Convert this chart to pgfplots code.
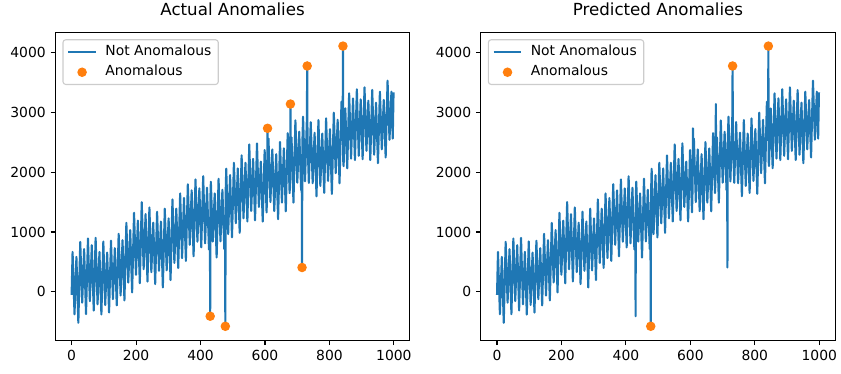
\documentclass[border=0pt]{standalone}
\usepackage{pgfplots}
\usepackage{pgfplotstable}
\pgfplotsset{compat=1.18}
\usepackage{fontspec}
\setmainfont{DejaVu Sans}
\definecolor{tabBlue}{HTML}{1F77B4}
\definecolor{tabOrange}{HTML}{FF7F0E}
\definecolor{legframe}{HTML}{CCCCCC}

\pgfplotstableread{
x y
0 -50
3.0 668
9.0 -372
14.9 585
20.9 -515
26.8 836
32.8 -179
38.8 714
44.7 -371
50.7 892
56.6 -153
62.6 780
68.6 -310
74.5 903
80.5 -207
86.4 668
92.4 -377
98.4 842
104.3 -218
110.3 657
116.2 -343
122.2 855
128.2 -120
134.1 730
140.1 -225
146.0 970
152.0 -60
158.0 864
163.9 -141
169.9 1153
175.8 158
181.8 1032
187.8 -8
193.7 1321
199.7 286
205.6 1190
211.6 145
217.6 1499
223.5 379
229.5 1299
235.4 174
241.4 1410
247.4 330
253.3 1156
259.3 131
265.2 1338
271.2 353
277.2 1175
283.1 75
289.1 1390
295.0 360
301.0 1227
307.0 197
312.9 1544
318.9 484
324.8 1390
330.8 400
336.8 1644
342.7 564
348.7 1568
354.6 518
360.6 1797
366.6 787
372.5 1695
378.5 595
384.4 1878
390.4 838
396.4 1728
402.3 743
408.3 1931
414.2 811
420.2 1739
426.2 709
429 1246
430 -405
431 1629
432.1 1840
438.1 840
444.0 1644
450.0 574
456.0 1889
461.9 844
467.9 1705
473.8 715
476 1207
477 -573
478 1654
479.8 2056
485.8 966
491.7 1950
497.7 910
503.6 2156
509.6 1146
515.6 2061
521.5 986
527.5 2279
533.4 1229
539.4 2156
545.4 1176
551.3 2462
557.3 1352
563.2 2220
569.2 1195
575.2 2479
581.1 1419
587.1 2175
593.0 1175
599.0 2368
605.0 1328
607 1746
608 2731
609 2163
610.9 2560
616.9 1500
622.8 2379
628.8 1349
634.8 2299
640.7 1214
646.7 2502
652.6 1492
658.6 2396
664.6 1346
670.5 2650
676.5 1650
678 1886
679 3136
680 2202
682.4 2580
688.4 1490
694.4 2863
700.3 1823
706.3 2674
712.2 1699
714 2067
715 408
716 2475
718.2 2925
724.2 1845
730 2870
731 3771
732 2538
736.1 1820
742.0 2834
748.0 1814
754.0 2657
759.9 1597
765.9 2869
771.8 1769
777.8 2643
783.8 1653
789.7 2897
795.7 1852
801.6 2717
807.6 1637
813.6 2992
819.5 1982
825.5 2873
831.4 1813
837.4 3175
841 2530
842 4103
843 2172
844 2100
849.3 3064
855.3 2064
861.2 3315
867.2 2225
873.2 3231
879.1 2201
885.1 3382
891.0 2272
897.0 3215
903.0 2215
908.9 3415
914.9 2355
920.8 3192
926.8 2202
932.8 3370
938.7 2290
944.7 3159
950.6 2149
956.6 3342
962.6 2380
968.5 3204
974.5 2244
980.4 3526
986.4 2540
992.4 3342
996.5 2560
999 3330
}\series

\pgfplotstableread{
x y
430 -405
477 -573
608 2731
679 3136
715 408
731 3771
842 4103
}\actual

\pgfplotstableread{
x y
477 -573
731 3771
842 4103
}\predicted

\pgfplotsset{
  mpl/.style={
    scale only axis, width=255pt, height=221.8pt,
    xmin=-50, xmax=1049, ymin=-807, ymax=4334,
    xtick={0,200,...,1000}, ytick={0,1000,...,4000},
    tick align=outside, tick pos=left, major tick length=3.5pt,
    every tick/.style={black, line width=0.8pt},
    axis line style={line width=0.8pt},
    tick label style={font=\fontsize{10}{12}\selectfont},
    /pgf/number format/assume math mode=true,
    /pgf/number format/set thousands separator={},
    title style={font=\fontsize{12}{14}\selectfont, at={(0.5,1)}, anchor=base, yshift=6pt},
    legend cell align=left,
    legend style={at={(0,1)}, anchor=north west, xshift=5pt, yshift=-5pt,
      draw=legframe, line width=0.8pt, rounded corners=2pt, fill=white,
      font=\fontsize{10}{12}\selectfont, inner xsep=3pt, inner ysep=1.5pt,
      nodes={text height=7.5pt, text depth=2.3pt, inner ysep=2.4pt},
      /tikz/every odd column/.append style={column sep=4pt}},
  },
  lineplot/.style={tabBlue, line width=1.5pt, line join=round, no markers,
    legend image code/.code={\draw[##1] (0pt,0pt) -- (20pt,0pt);}},
  dotplot/.style={only marks, mark=*, mark size=3pt, color=tabOrange,
    mark options={draw=tabOrange, fill=tabOrange, line width=0.8pt},
    legend image code/.code={\draw[mark repeat=2,mark phase=2,##1] plot coordinates {(0pt,0pt) (10pt,0pt) (20pt,0pt)};}},
}

\begin{document}
\begin{tikzpicture}
\path[use as bounding box] (0,0) rectangle (605.52pt,269.28pt);
\begin{axis}[mpl, at={(39.96pt,24.26pt)}, anchor=south west, title={Actual Anomalies}]
\addplot[lineplot] table[x=x,y=y] {\series};
\addlegendentry{Not Anomalous}
\addplot[dotplot] table[x=x,y=y] {\actual};
\addlegendentry{Anomalous}
\end{axis}
\begin{axis}[mpl, at={(346.25pt,24.26pt)}, anchor=south west, title={Predicted Anomalies}]
\addplot[lineplot] table[x=x,y=y] {\series};
\addlegendentry{Not Anomalous}
\addplot[dotplot] table[x=x,y=y] {\predicted};
\addlegendentry{Anomalous}
\end{axis}
\end{tikzpicture}
\end{document}
